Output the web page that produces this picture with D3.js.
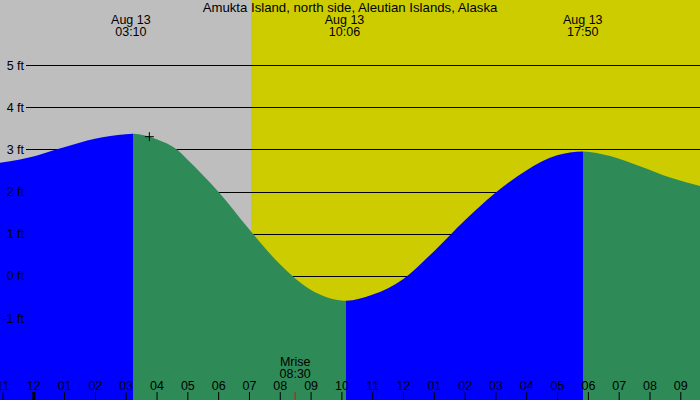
<!DOCTYPE html>
<html>
<head>
<meta charset="utf-8">
<script src="https://cdn.jsdelivr.net/npm/d3@7"></script>
<style>
  body { margin: 0; }
  text { font-family: "Liberation Sans", Arial, sans-serif; fill: #000; }
</style>
</head>
<body>
<svg class="tides"></svg>
<script>
const width = 700;
const height = 400;

// title
const station = 'Amukta Island, north side, Aleutian Islands, Alaska';

// tide curve, hours after midnight Aug 13 and height in feet
const readHours = [-1.08, -0.43, 0, 0.71, 1, 2, 3, 3.24, 4, 4.65, 5, 6, 7, 8, 9, 10, 10.15,
    11, 12, 13, 14, 15, 16, 17, 17.84, 18.72, 19.69, 20.67, 21.64];
const readFeet = [2.68, 2.76, 2.83, 2.99, 3.05, 3.25, 3.36, 3.37, 3.24, 3.00, 2.76, 2.00, 1.11, 0.28, -0.33, -0.585, -0.59,
    -0.45, -0.08, 0.58, 1.31, 1.97, 2.50, 2.86, 2.95, 2.84, 2.60, 2.33, 2.13];

// high / low tide labels
const extremeDates = ['Aug 13', 'Aug 13', 'Aug 13'];
const extremeTimes = ['03:10', '10:06', '17:50'];

// daylight, moonrise, current mark
const sunrise = '07:04';
const moonrise = '08:30';
const markTime = '03:46';
const markFeet = 3.30;

// axes
const feetTicks = [5, 4, 3, 2, 1, 0, -1];
const hourTicks = d3.range(-1, 22);

function toHours(str){
    const t = str.split(':');
    return Number(t[0]) + Number(t[1]) / 60;
}

const svg = d3.select('.tides')
    .attr('width', width)
    .attr('height', height);

const xScale = d3.scaleLinear()
    .domain([-33.3 / 30.81, (width - 33.3) / 30.81])
    .range([0, width]);

const yScale = d3.scaleLinear()
    .domain([-1, 5])
    .range([318, 65]);

// night / day background
svg.append('rect')
    .attr('width', width)
    .attr('height', height)
    .attr('fill', '#bebebe');

svg.append('rect')
    .attr('x', xScale(toHours(sunrise)))
    .attr('width', width - xScale(toHours(sunrise)))
    .attr('height', height)
    .attr('fill', '#cccc00');

// grid lines
svg.append('g')
    .selectAll('line')
    .data(feetTicks).enter()
    .append('line')
    .attr('x1', 26)
    .attr('x2', width)
    .attr('y1', d => Math.round(yScale(d)) + 0.5)
    .attr('y2', d => Math.round(yScale(d)) + 0.5)
    .attr('stroke', '#000')
    .attr('stroke-width', 1);

// tide area: one curve, coloured blue while rising and green while falling
const points = readHours.map((h, i) => ({ h: h, ft: readFeet[i] }));

// turning points split the curve into rising / falling stretches
const breaks = [points[0].h];
for(let i = 1; i < points.length - 1; i++){
    const a = points[i].ft - points[i - 1].ft;
    const b = points[i + 1].ft - points[i].ft;
    if(a * b < 0) breaks.push(points[i].h);
}
breaks.push(points[points.length - 1].h);

const stretches = d3.pairs(breaks).map(([h0, h1]) => {
    const f0 = points.find(p => p.h === h0).ft;
    const f1 = points.find(p => p.h === h1).ft;
    return { h0: h0, h1: h1, rising: f1 > f0 };
});

const area = d3.area()
    .x(d => xScale(d.h))
    .y0(height)
    .y1(d => yScale(d.ft))
    .curve(d3.curveMonotoneX);

const defs = svg.append('defs');
defs.selectAll('clipPath')
    .data(stretches).enter()
    .append('clipPath')
    .attr('id', (d, i) => `stretch${i}`)
    .append('rect')
    .attr('x', d => xScale(d.h0))
    .attr('width', d => xScale(d.h1) - xScale(d.h0))
    .attr('height', height);

svg.append('g')
    .selectAll('path')
    .data(stretches).enter()
    .append('path')
    .attr('d', area(points))
    .attr('clip-path', (d, i) => `url(#stretch${i})`)
    .attr('fill', d => d.rising ? '#0000ff' : '#2e8b57');

// feet labels
svg.append('g')
    .selectAll('text')
    .data(feetTicks).enter()
    .append('text')
    .attr('x', 24)
    .attr('y', d => yScale(d) + 4.5)
    .attr('text-anchor', 'end')
    .attr('font-size', 12.5)
    .text(d => `${d} ft`);

// title
svg.append('text')
    .attr('x', width / 2)
    .attr('y', 12)
    .attr('text-anchor', 'middle')
    .attr('font-size', 13.2)
    .text(station);

// high / low labels
const extremes = svg.append('g')
    .selectAll('g')
    .data(extremeTimes).enter()
    .append('g')
    .attr('transform', d => `translate(${xScale(toHours(d))},0)`);

extremes.append('text')
    .attr('y', 24)
    .attr('text-anchor', 'middle')
    .attr('font-size', 12.5)
    .text((d, i) => extremeDates[i]);

extremes.append('text')
    .attr('y', 36)
    .attr('text-anchor', 'middle')
    .attr('font-size', 12.5)
    .text(d => d);

// hour axis
const xAxis = d3.axisBottom(xScale)
    .tickValues(hourTicks)
    .tickSize(8)
    .tickFormat(d => {
        const h = ((d % 12) + 12) % 12;
        return String(h === 0 ? 12 : h).padStart(2, '0');
    });

const axisG = svg.append('g')
    .attr('transform', 'translate(0,392)')
    .call(xAxis);

axisG.select('.domain').remove();
axisG.selectAll('.tick line')
    .attr('stroke', '#000')
    .attr('stroke-width', d => d % 24 === 0 ? 3 : 1);
axisG.selectAll('.tick text')
    .attr('y', -2)
    .attr('dy', 0)
    .attr('fill', '#000')
    .attr('font-size', 12.5)
    .attr('font-family', '"Liberation Sans", Arial, sans-serif');

// moonrise
const mx = xScale(toHours(moonrise));
svg.append('line')
    .attr('x1', mx)
    .attr('x2', mx)
    .attr('y1', 392)
    .attr('y2', height)
    .attr('stroke', '#ff0000')
    .attr('stroke-width', 1);

svg.append('text')
    .attr('x', mx)
    .attr('y', 366)
    .attr('text-anchor', 'middle')
    .attr('font-size', 12.5)
    .text('Mrise');

svg.append('text')
    .attr('x', mx)
    .attr('y', 378)
    .attr('text-anchor', 'middle')
    .attr('font-size', 12.5)
    .text(moonrise);

// current time mark
const px = xScale(toHours(markTime));
const py = yScale(markFeet);
svg.append('path')
    .attr('d', `M${px - 4.5},${py}H${px + 4.5}M${px},${py - 4.5}V${py + 4.5}`)
    .attr('stroke', '#000')
    .attr('stroke-width', 1);
</script>
</body>
</html>
